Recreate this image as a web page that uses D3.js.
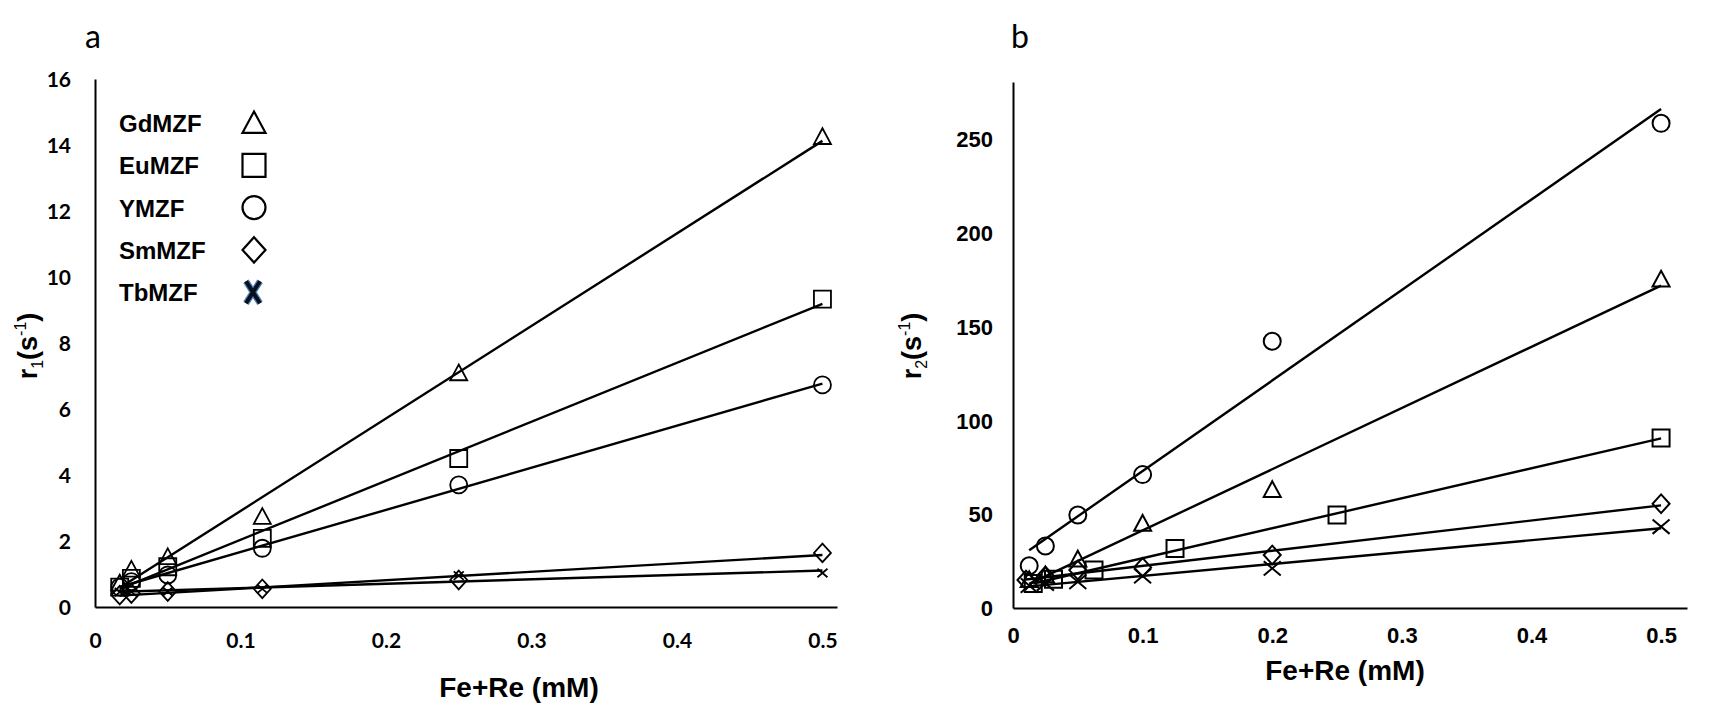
<!DOCTYPE html>
<html><head><meta charset="utf-8">
<script src="https://cdn.jsdelivr.net/npm/d3@7"></script>
<style>body{margin:0;background:#fff} svg{display:block}</style>
</head><body>
<svg id="c" width="1732" height="722"></svg>
<script>
// ---------- DATA ----------
const seriesNames  = ["GdMZF", "EuMZF", "YMZF", "SmMZF", "TbMZF"];
const seriesShapes = ["triangle", "square", "circle", "diamond", "cross"];

// Panel a : r1 (s^-1) vs Fe+Re (mM)
const r1Conc = [0.017, 0.025, 0.05, 0.115, 0.25, 0.5];
const r1Gd = [0.72, 1.14, 1.52, 2.74, 7.09, 14.25];
const r1Eu = [0.60, 0.87, 1.22, 2.08, 4.50, 9.33];
const r1Y  = [0.60, 0.77, 0.97, 1.78, 3.70, 6.73];
const r1Sm = [0.36, 0.41, 0.47, 0.55, 0.82, 1.64];
const r1Tb = [0.45, 0.46, 0.47, 0.55, 0.95, 1.03];

// Panel b : r2 (s^-1) vs Fe+Re (mM)
const r2Conc   = [0.0125, 0.025, 0.05, 0.1, 0.2, 0.5];
const r2ConcEu = [0.015625, 0.03125, 0.0625, 0.125, 0.25, 0.5];
const r2ConcSm = [0.01, 0.025, 0.05, 0.1, 0.2, 0.5];
const r2Gd = [15, 17.5, 26, 45, 63, 175];
const r2Eu = [13.1, 15.3, 20.2, 31.7, 49.5, 90.5];
const r2Y  = [22.5, 33, 49.5, 71, 142, 258];
const r2Sm = [14.9, 17, 20.2, 21.6, 28.2, 55.5];
const r2Tb = [12, 13.1, 14, 17, 21.1, 43.3];

// Ticks
const concTicks = [0, 0.1, 0.2, 0.3, 0.4, 0.5];
const concTickLabels = ["0", "0.1", "0.2", "0.3", "0.4", "0.5"];
const r1Ticks = [0, 2, 4, 6, 8, 10, 12, 14, 16];
const r2Ticks = [0, 50, 100, 150, 200, 250];

// ---------- BUILD ----------
const svg = d3.select("#c");

function fit(xs, ys) {
  const n = xs.length, mx = d3.mean(xs), my = d3.mean(ys);
  let sxy = 0, sxx = 0;
  for (let i = 0; i < n; i++) { sxy += (xs[i]-mx)*(ys[i]-my); sxx += (xs[i]-mx)**2; }
  const b = sxy / sxx, a = my - b * mx;
  const x0 = d3.min(xs), x1 = d3.max(xs);
  return [[x0, a + b*x0], [x1, a + b*x1]];
}

function shapePath(shape, s) {
  const h = s / 2;
  switch (shape) {
    case "triangle": return `M0,${-h*1.0}L${h},${h*0.85}L${-h},${h*0.85}Z`;
    case "square": return `M${-h},${-h}H${h}V${h}H${-h}Z`;
    case "diamond": return `M0,${-h*1.1}L${h},0L0,${h*1.1}L${-h},0Z`;
    case "cross": return `M${-h},${-h*0.85}L${h},${h*0.85}M${h},${-h*0.85}L${-h},${h*0.85}`;
    default: return null;
  }
}

function drawMarker(g, shape, cx, cy, s, sw) {
  if (shape === "circle") {
    g.append("ellipse").attr("cx", cx).attr("cy", cy).attr("rx", s/2).attr("ry", s/2)
      .attr("fill", "none").attr("stroke", "#000").attr("stroke-width", sw);
  } else {
    g.append("path").attr("transform", `translate(${cx},${cy})`).attr("d", shapePath(shape, s))
      .attr("fill", "none").attr("stroke", "#000").attr("stroke-width", sw);
  }
}

function panel(cfg) {
  const g = svg.append("g");
  const x = d3.scaleLinear().domain(cfg.xDomain).range(cfg.xRange);
  const y = d3.scaleLinear().domain(cfg.yDomain).range(cfg.yRange);

  // axes
  const xa = g.append("g").attr("transform", `translate(0,${cfg.yRange[0]})`)
    .call(d3.axisBottom(x).tickValues(concTicks).tickFormat((d,i) => concTickLabels[i]).tickSize(0).tickSizeOuter(0));
  xa.select(".domain").attr("stroke-width", 2);
  xa.selectAll("text").attr("y", cfg.xLabelDy).attr("dy", 0)
    .attr("font-family", cfg.tickFont).attr("font-weight", "bold").attr("font-size", cfg.tickSize).attr("fill", "#000");

  const ya = g.append("g").attr("transform", `translate(${cfg.xRange[0]},0)`)
    .call(d3.axisLeft(y).tickValues(cfg.yTicks).tickSize(0).tickSizeOuter(0).tickFormat(d3.format("d")));
  ya.select(".domain").attr("stroke-width", 2);
  ya.selectAll("text").attr("x", -cfg.yLabelPad).attr("dy", "0.36em")
    .attr("font-family", cfg.tickFont).attr("font-weight", "bold").attr("font-size", cfg.tickSize).attr("fill", "#000");

  // trend lines + markers
  const line = d3.line().x(d => x(d[0])).y(d => y(d[1]));
  cfg.series.forEach((s, i) => {
    g.append("path").attr("d", line(fit(s.xs, s.ys))).attr("fill", "none")
      .attr("stroke", "#000").attr("stroke-width", 2.4);
  });
  cfg.series.forEach((s, i) => {
    const shape = seriesShapes[i];
    s.xs.forEach((xv, j) => {
      drawMarker(g, shape, x(xv), y(s.ys[j]), shape === "cross" ? cfg.crossSize : cfg.markerSize, cfg.markerStroke);
    });
  });

  // axis titles
  g.append("text").attr("x", cfg.xTitle[0]).attr("y", cfg.xTitle[1]).attr("text-anchor", "middle")
    .attr("font-family", "Liberation Sans, Arial, sans-serif").attr("font-weight", "bold").attr("font-size", 28)
    .text("Fe+Re (mM)");

  const yt = g.append("text").attr("transform", `translate(${cfg.yTitle[0]},${cfg.yTitle[1]}) rotate(-90)`)
    .attr("text-anchor", "middle").attr("font-family", "Liberation Sans, Arial, sans-serif")
    .attr("font-weight", "bold").attr("font-size", 27);
  yt.append("tspan").text("r");
  yt.append("tspan").attr("font-size", 16).attr("font-weight", "normal").attr("dy", 6).text(cfg.yTitleSub);
  yt.append("tspan").attr("dy", -6).text("(s");
  yt.append("tspan").attr("font-size", 16).attr("font-weight", "normal").attr("dy", -11).text("-1");
  yt.append("tspan").attr("dy", 11).text(")");

  // panel label
  g.append("text").attr("x", cfg.label[0]).attr("y", cfg.label[1]).attr("text-anchor", "middle")
    .attr("font-family", "Lato, Open Sans, sans-serif").attr("font-size", 32).text(cfg.labelText);
  return g;
}

const gA = panel({
  xDomain: [0, 0.51], xRange: [95, 837],
  yDomain: [0, 16], yRange: [607, 79], yTicks: r1Ticks,
  tickFont: "Lato, Carlito, sans-serif", tickSize: 21, xLabelDy: 41, yLabelPad: 24,
  series: [
    {xs: r1Conc, ys: r1Gd}, {xs: r1Conc, ys: r1Eu}, {xs: r1Conc, ys: r1Y},
    {xs: r1Conc, ys: r1Sm}, {xs: r1Conc, ys: r1Tb}
  ],
  markerSize: 17, crossSize: 10, markerStroke: 1.8,
  xTitle: [519, 697], yTitle: [37, 346], yTitleSub: "1",
  label: [93, 48], labelText: "a"
});

const gB = panel({
  xDomain: [0, 0.52], xRange: [1013, 1687],
  yDomain: [0, 280], yRange: [608, 82], yTicks: r2Ticks,
  tickFont: "Liberation Sans, Arial, sans-serif", tickSize: 22, xLabelDy: 35, yLabelPad: 20,
  series: [
    {xs: r2Conc, ys: r2Gd}, {xs: r2ConcEu, ys: r2Eu}, {xs: r2Conc, ys: r2Y},
    {xs: r2ConcSm, ys: r2Sm}, {xs: r2Conc, ys: r2Tb}
  ],
  markerSize: 17, crossSize: 17, markerStroke: 2,
  xTitle: [1345, 680], yTitle: [921, 346], yTitleSub: "2",
  label: [1020, 48], labelText: "b"
});

// legend (panel a)
const lg = gA.append("g");
seriesNames.forEach((name, i) => {
  const cy = 123 + i * 42.3;
  lg.append("text").attr("x", 119).attr("y", cy + 9).attr("font-family", "Liberation Sans, Arial, sans-serif")
    .attr("font-weight", "bold").attr("font-size", 24).text(name);
  const shape = seriesShapes[i];
  if (shape === "cross") {
    const p = `M-7,-11L7,11M7,-11L-7,11`;
    lg.append("path").attr("transform", `translate(253,${cy})`).attr("d", p)
      .attr("stroke", "#4f7fb8").attr("stroke-width", 6.5).attr("fill", "none");
    lg.append("path").attr("transform", `translate(253,${cy})`).attr("d", p)
      .attr("stroke", "#0a0f1e").attr("stroke-width", 4).attr("fill", "none");
  } else {
    drawMarker(lg, shape, 254, cy, 23, 2.2);
  }
});
</script>
</body></html>
